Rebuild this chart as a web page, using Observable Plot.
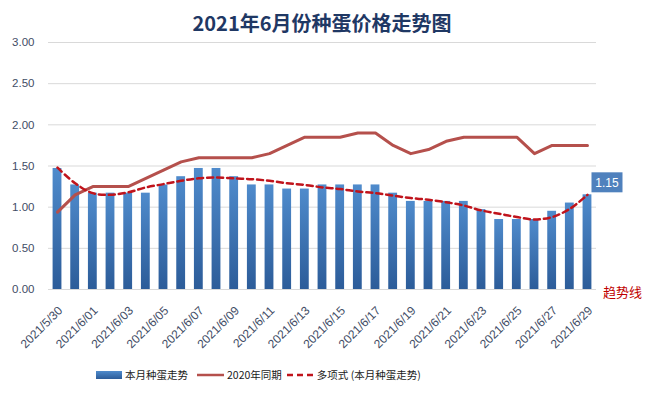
<!DOCTYPE html>
<html><head><meta charset="utf-8">
<script src="https://cdn.jsdelivr.net/npm/d3@7"></script>
<script src="https://cdn.jsdelivr.net/npm/@observablehq/plot@0.6"></script>
<style>
body{margin:0;background:#fff;font-family:"Liberation Sans","Noto Sans CJK SC",sans-serif;}
#wrap{position:relative;width:648px;height:396px;overflow:hidden;background:#fff}
#title{position:absolute;top:9px;left:0;width:644px;text-align:center;font-weight:bold;font-size:20px;font-family:"Noto Sans CJK SC",sans-serif;color:#1f3864;line-height:28px}
#legend{position:absolute;top:367px;left:96px;display:flex;align-items:center;font-size:10.5px;font-family:"Noto Sans CJK SC",sans-serif;color:#1a1a1a;white-space:nowrap}
#legend span.t{margin-left:3px}
#legend svg{display:block}
#chart{position:absolute;left:0;top:0}
</style></head>
<body>
<div id="wrap">
<div id="chart"></div>
<div id="title">2021年6月份种蛋价格走势图</div>
<div id="legend">
<svg width="26" height="8"><defs><linearGradient id="lg2" x1="0" y1="0" x2="0" y2="1"><stop offset="0" stop-color="#4f8bcc"/><stop offset="1" stop-color="#2c5c99"/></linearGradient></defs><rect x="0" y="0" width="26" height="8" fill="url(#lg2)"/></svg><span class="t" style="margin-right:9px">本月种蛋走势</span>
<svg width="27" height="8"><line x1="0" y1="4" x2="27" y2="4" stroke="#b5504c" stroke-width="2.5"/></svg><span class="t" style="margin-right:5px">2020年同期</span>
<svg width="27" height="8"><line x1="0" y1="4" x2="27" y2="4" stroke="#c0141c" stroke-width="2.5" stroke-dasharray="6,4"/></svg><span class="t">多项式 (本月种蛋走势)</span>
</div>
</div>
<script>
const dates = ["2021/5/30","2021/5/31","2021/6/01","2021/6/02","2021/6/03","2021/6/04","2021/6/05","2021/6/06","2021/6/07","2021/6/08","2021/6/09","2021/6/10","2021/6/11","2021/6/12","2021/6/13","2021/6/14","2021/6/15","2021/6/16","2021/6/17","2021/6/18","2021/6/19","2021/6/20","2021/6/21","2021/6/22","2021/6/23","2021/6/24","2021/6/25","2021/6/26","2021/6/27","2021/6/28","2021/6/29"];
const price2021 = [1.47,1.27,1.17,1.17,1.17,1.17,1.27,1.37,1.47,1.47,1.37,1.27,1.27,1.22,1.22,1.27,1.27,1.27,1.27,1.17,1.07,1.07,1.07,1.07,0.97,0.85,0.85,0.85,0.95,1.05,1.15];
const price2020 = [0.94,1.15,1.25,1.25,1.25,1.35,1.45,1.55,1.60,1.60,1.60,1.60,1.65,1.75,1.85,1.85,1.85,1.90,1.90,1.75,1.65,1.70,1.80,1.85,1.85,1.85,1.85,1.65,1.75,1.75,1.75];
const trend = [1.48,1.29,1.17,1.15,1.18,1.24,1.28,1.32,1.35,1.36,1.35,1.34,1.32,1.29,1.27,1.24,1.22,1.19,1.17,1.14,1.11,1.09,1.06,1.02,0.96,0.92,0.88,0.85,0.88,0.98,1.15];
const yTicks = [0,0.5,1,1.5,2,2.5,3];
const xTicks = dates.filter((d,i)=>i%2===0);
const lastLabel = "1.15";
const trendLabel = "趋势线";

const rows = dates.map((d,i)=>({date:d, v21:price2021[i], v20:price2020[i], tr:trend[i]}));
const last = rows[rows.length-1];

// custom mark: data label in a filled box, positioned via the plot's scales
function boxLabel(index, scales) {
  const ns = "http://www.w3.org/2000/svg";
  const cx = scales.x(last.date) + (scales.x.bandwidth ? scales.x.bandwidth()/2 : 0) + 20;
  const cy = scales.y(last.v21) - 12;
  const g = document.createElementNS(ns, "g");
  const t = document.createElementNS(ns, "text");
  t.setAttribute("x", cx); t.setAttribute("y", cy);
  t.setAttribute("text-anchor", "middle"); t.setAttribute("dy", "0.35em");
  t.setAttribute("fill", "white"); t.setAttribute("font-size", "12");
  t.setAttribute("font-family", "'Liberation Sans',sans-serif");
  t.textContent = lastLabel;
  const r = document.createElementNS(ns, "rect");
  const w = 31, h = 20;
  r.setAttribute("x", cx - w/2); r.setAttribute("y", cy - h/2);
  r.setAttribute("width", w); r.setAttribute("height", h);
  r.setAttribute("fill", "#4f81bd");
  g.appendChild(r); g.appendChild(t);
  return g;
}

const plot = Plot.plot({
  width:648, height:396,
  marginTop:42, marginBottom:107, marginLeft:48, marginRight:52,
  style:{background:"transparent", fontFamily:"'Liberation Sans',sans-serif"},
  x:{domain:dates, paddingInner:0.5, paddingOuter:0.26, round:false, axis:null},
  y:{domain:[0,3], axis:null},
  marks:[
    Plot.gridY(yTicks,{stroke:"#d9d9d9", strokeOpacity:1, strokeWidth:1}),
    Plot.axisY(yTicks,{tickSize:0, tickPadding:14, tickFormat:d3.format(".2f"), fill:"#3f4d66", fontSize:11.5, label:null}),
    Plot.axisX(xTicks,{tickSize:0, tickPadding:19, dx:3, tickRotate:-45, fill:"#3f4d66", fontSize:12, label:null}),
    Plot.barY(rows,{x:"date", y:"v21", fill:"#3a70b5"}),
    Plot.ruleX([0],{frameAnchor:"left", stroke:"#8c8c8c", strokeWidth:1, y1:0, y2:3}),
    Plot.lineY(rows,{x:"date", y:"v20", stroke:"#b5504c", strokeWidth:3}),
    Plot.lineY(rows,{x:"date", y:"tr", stroke:"#c0141c", strokeWidth:2.5, strokeDasharray:"6,4", curve:"catmull-rom"}),
    boxLabel,
    Plot.text([last],{x:"date", y:()=>0, text:()=>trendLabel, dx:35, dy:3, fill:"#c00000", fontSize:13, fontFamily:"'Noto Sans CJK SC',sans-serif"})
  ]
});
document.getElementById("chart").appendChild(plot);

const svg = d3.select(plot);
const defs = svg.insert("defs",":first-child");
const g = defs.append("linearGradient").attr("id","barGrad").attr("x1",0).attr("y1",0).attr("x2",0).attr("y2",1);
g.append("stop").attr("offset",0).attr("stop-color","#4f8bcc");
g.append("stop").attr("offset",1).attr("stop-color","#2c5c99");
svg.selectAll("g[aria-label='bar']").attr("fill","url(#barGrad)");
svg.selectAll("g[aria-label='bar'] rect").attr("fill","url(#barGrad)");
</script>
</body></html>
